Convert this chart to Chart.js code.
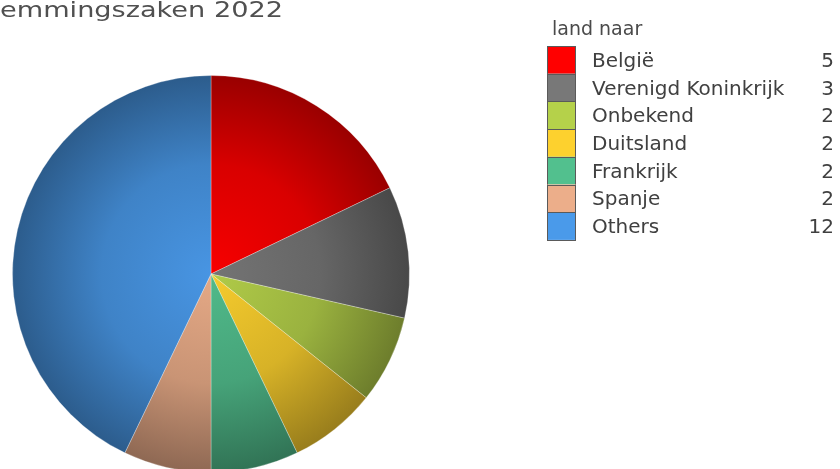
<!DOCTYPE html>
<html>
<head>
<meta charset="utf-8">
<script src="https://cdn.jsdelivr.net/npm/chart.js@4.4.1/dist/chart.umd.min.js"></script>
<style>
  html, body { margin: 0; padding: 0; background: #ffffff; overflow: hidden; }
  #wrap { width: 840px; height: 469px; overflow: hidden; }
</style>
</head>
<body>
<div id="wrap"><canvas id="pieChart" width="840" height="480"></canvas></div>
<script>
// data
var titleText = 'emmingszaken 2022';
var legendTitle = 'land naar';
var labels = ['België', 'Verenigd Koninkrijk', 'Onbekend', 'Duitsland', 'Frankrijk', 'Spanje', 'Others'];
var values = [5, 3, 2, 2, 2, 2, 12];
var colors = ['#ff0000', '#787878', '#b5d14a', '#fdd12e', '#52c08e', '#ecae8a', '#4a9aea'];

// darken / lighten a hex colour
function shade(hex, f) {
    var n = parseInt(hex.slice(1), 16);
    var r = Math.min(255, Math.round(((n >> 16) & 255) * f));
    var g = Math.min(255, Math.round(((n >> 8) & 255) * f));
    var b = Math.min(255, Math.round((n & 255) * f));
    return 'rgb(' + r + ',' + g + ',' + b + ')';
}

// radial shading per slice: bright at the hub, dark at the rim
function sliceFill(context) {
    var chart = context.chart;
    var area = chart.chartArea;
    if (!area) return colors[context.dataIndex];
    var cx = (area.left + area.right) / 2;
    var cy = (area.top + area.bottom) / 2;
    var r = Math.min(area.right - area.left, area.bottom - area.top) / 2;
    var base = colors[context.dataIndex];
    var grad = chart.ctx.createRadialGradient(cx, cy, 0, cx, cy, r);
    grad.addColorStop(0, shade(base, 0.97));
    grad.addColorStop(0.55, shade(base, 0.85));
    grad.addColorStop(1, shade(base, 0.6));
    return grad;
}

// title + legend with counts, drawn on the same canvas
var sidePlugin = {
    id: 'sideLegend',
    afterDraw: function (chart) {
        var ctx = chart.ctx;
        ctx.save();

        // title (cut off on the left in the original)
        ctx.font = '21px "DejaVu Sans"';
        ctx.fillStyle = '#505050';
        ctx.textBaseline = 'alphabetic';
        ctx.textAlign = 'left';
        var w = ctx.measureText(titleText).width;
        ctx.save();
        ctx.translate(0, 17);
        ctx.scale(283 / w, 1);
        ctx.fillText(titleText, 0, 0);
        ctx.restore();

        // legend heading
        ctx.font = '19px "DejaVu Sans"';
        ctx.fillStyle = '#4a4a4a';
        ctx.fillText(legendTitle, 552, 35);

        var boxX = 547, boxW = 29, top = 46, rowH = 27.7;
        for (var i = 0; i < labels.length; i++) {
            var y = top + i * rowH;
            ctx.fillStyle = colors[i];
            ctx.fillRect(boxX, y, boxW, rowH);
            ctx.strokeStyle = '#5a5a5a';
            ctx.lineWidth = 1;
            ctx.strokeRect(boxX + 0.5, Math.round(y) + 0.5, boxW - 1, Math.round(rowH));

            ctx.font = '20px "DejaVu Sans"';
            ctx.fillStyle = '#404040';
            ctx.textAlign = 'left';
            ctx.fillText(labels[i], 592, y + rowH / 2 + 7);
            ctx.textAlign = 'right';
            ctx.fillText(String(values[i]), 834, y + rowH / 2 + 7);
        }
        ctx.restore();
    }
};

var ctx = document.getElementById('pieChart').getContext('2d');
var pieChart = new Chart(ctx, {
    type: 'pie',
    data: {
        labels: labels,
        datasets: [{
            data: values,
            backgroundColor: sliceFill,
            borderColor: 'rgba(255,255,255,0.28)',
            borderWidth: 1
        }]
    },
    options: {
        responsive: false,
        animation: false,
        devicePixelRatio: 1,
        layout: {
            padding: { left: 12, top: 75, right: 430, bottom: 7 }
        },
        plugins: {
            legend: { display: false },
            tooltip: { enabled: false },
            title: { display: false }
        }
    },
    plugins: [sidePlugin]
});
</script>
</body>
</html>
